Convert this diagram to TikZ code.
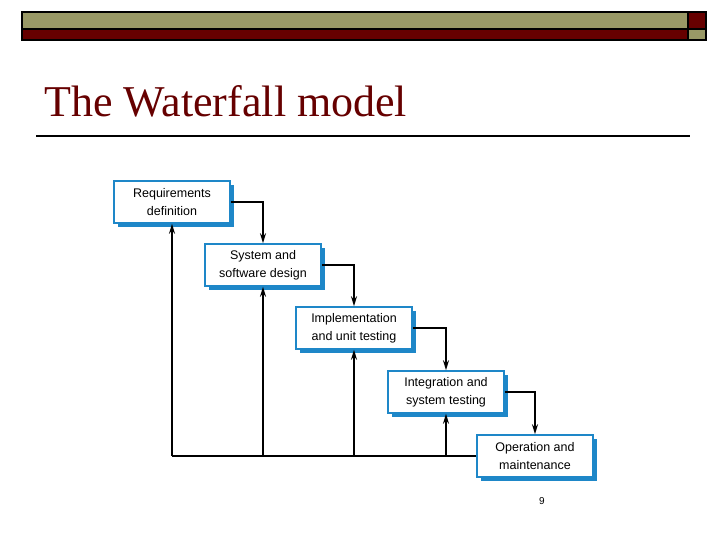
\documentclass[tikz,border=0pt]{standalone}
\usetikzlibrary{arrows.meta}
\usepackage{fontspec}
\setsansfont{Liberation Sans}
\setmainfont{Liberation Serif}
\begin{document}
\begin{tikzpicture}[x=1pt,y=-1pt,
 phase/.style={draw=pblue,line width=1.6pt,fill=white,minimum width=116pt,minimum height=42pt,align=center,font=\sffamily\fontsize{12.5}{18}\selectfont,inner sep=0pt},
 shadow/.style={fill=pblue},
 flow/.style={line width=1.5pt,-{Stealth[length=10pt,width=6pt]}}]
\useasboundingbox (0,0) rectangle (720,540);
\definecolor{pblue}{RGB}{30,135,200}
\definecolor{olive}{RGB}{153,153,102}
\definecolor{dred}{RGB}{102,0,0}
\draw[line width=1.2pt,fill=olive] (22,12) rectangle (688,29);
\draw[line width=1.2pt,fill=dred] (22,29) rectangle (688,40);
\draw[line width=1.2pt,fill=dred] (688,12) rectangle (706,29);
\draw[line width=1.2pt,fill=olive] (688,29) rectangle (706,40);
\node[anchor=base west,text=dred,font=\rmfamily\fontsize{44}{44}\selectfont,inner sep=0pt] (title) at (44,117) {The Waterfall model};
\draw[line width=1.2pt] (36,136) -- (690,136);
\foreach \n/\x/\y/\t in {a/172/202/{Requirements\\definition},b/263/265/{System and\\software design},c/354/328/{Implementation\\and unit testing},d/446/392/{Integration and\\system testing},e/535/456/{Operation and\\maintenance}}{
 \fill[shadow] (\x-54,\y-17) rectangle (\x+62,\y+25);
 \node[phase] (\n) at (\x,\y) {\t};
}
\draw[flow] (a.east) -| (b.north);
\draw[flow] (b.east) -| (c.north);
\draw[flow] (c.east) -| (d.north);
\draw[flow] (d.east) -| (e.north);
\coordinate (ya) at (a.south |- e.west);
\draw[line width=1.5pt] (e.west) -- (ya);
\draw[flow] (ya) -- (a.south);
\draw[flow] (b.south |- e.west) -- (b.south);
\draw[flow] (c.south |- e.west) -- (c.south);
\draw[flow] (d.south |- e.west) -- (d.south);
\node[font=\sffamily\fontsize{10}{10}\selectfont] (pg) at (542,501) {9};
\end{tikzpicture}
\end{document}
